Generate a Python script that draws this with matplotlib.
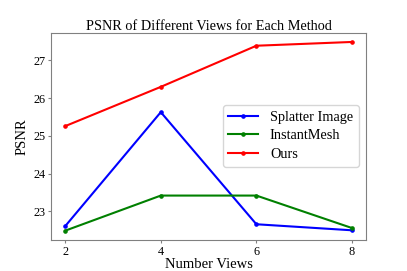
import matplotlib
matplotlib.use("Agg")
import matplotlib.pyplot as plt

views = [2, 4, 6, 8]
splatter = [22.61, 25.63, 22.66, 22.50]
instantmesh = [22.49, 23.42, 23.42, 22.56]
ours = [25.26, 26.30, 27.39, 27.49]

plt.rcParams['font.family'] = ['Liberation Serif', 'DejaVu Serif']

fig, ax = plt.subplots(figsize=(4.07, 2.71), dpi=100)
fig.subplots_adjust(left=0.125, right=0.9, bottom=0.114, top=0.88)

ax.plot(views, splatter, color='blue', marker='o', markersize=2.3, linewidth=1.5, label='Splatter Image')
ax.plot(views, instantmesh, color='green', marker='o', markersize=2.3, linewidth=1.5, label='InstantMesh')
ax.plot(views, ours, color='red', marker='o', markersize=2.3, linewidth=1.5, label='Ours')

ax.set_xticks(views)
ax.set_title('PSNR of Different Views for Each Method', fontsize=10.3, pad=2)
ax.set_xlabel('Number Views', fontsize=10.5, labelpad=0)
ax.set_ylabel('PSNR', fontsize=10.5, labelpad=3)
ax.tick_params(labelsize=8.8, length=2.5, pad=1.5, color='gray')
for s in ax.spines.values():
    s.set_color('gray')

ax.legend(loc='center right', bbox_to_anchor=(0.976, 0.502), borderaxespad=0,
          fontsize=10.3, handlelength=2.1, labelspacing=0.4, borderpad=0.4)

fig.savefig('out.png', dpi=100)
